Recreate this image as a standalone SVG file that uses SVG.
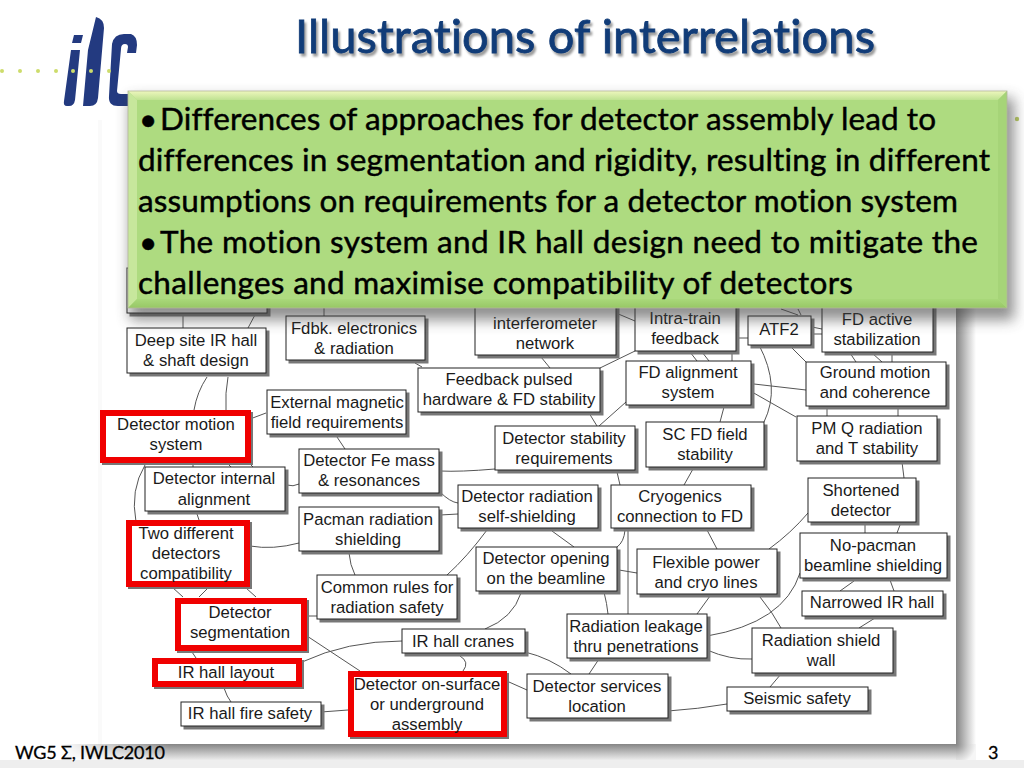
<svg xmlns="http://www.w3.org/2000/svg" width="1024" height="768" viewBox="0 0 1024 768">
<defs>
<linearGradient id="topb" x1="0" y1="0" x2="0" y2="1"><stop offset="0" stop-color="#eef7bd"/><stop offset="1" stop-color="#bfe292"/></linearGradient>
<linearGradient id="botb" x1="0" y1="0" x2="0" y2="1"><stop offset="0" stop-color="#a9d87a"/><stop offset="1" stop-color="#97c765"/></linearGradient>
<linearGradient id="bot" x1="0" y1="0" x2="0" y2="1"><stop offset="0" stop-color="#858585"/><stop offset=".6" stop-color="#c4c4c4"/><stop offset="1" stop-color="#ececec"/></linearGradient>
<linearGradient id="rgt" x1="0" y1="0" x2="1" y2="0"><stop offset="0" stop-color="#858585"/><stop offset=".6" stop-color="#d0d0d0"/><stop offset="1" stop-color="#ffffff"/></linearGradient>
<linearGradient id="fade" x1="0" y1="0" x2="1" y2="0"><stop offset="0" stop-color="#fff"/><stop offset="1" stop-color="#fff" stop-opacity="0"/></linearGradient>
<radialGradient id="cor" gradientUnits="userSpaceOnUse" cx="956" cy="744" r="20"><stop offset="0" stop-color="#858585"/><stop offset=".6" stop-color="#d0d0d0"/><stop offset="1" stop-color="#f6f6f6"/></radialGradient>
<filter id="sh" x="-5%" y="-15%" width="110%" height="130%"><feGaussianBlur stdDeviation="7"/></filter>
</defs>
<style>
text{font-family:"Liberation Sans",Arial,sans-serif;fill:#1a1a1a;font-size:16.7px;text-anchor:middle}
.b{fill:#fff;stroke:#222;stroke-width:1;filter:drop-shadow(3px 3px 0 #777)}
.r{fill:#fff;stroke:#f00000;stroke-width:6;filter:drop-shadow(2px 2px 0 #777)}
#conn path{fill:none;stroke:#555;stroke-width:1}
.t{font-family:"Lato","Open Sans",sans-serif;font-size:31.5px;fill:#000;stroke:#000;stroke-width:.45;text-anchor:start;font-variant-ligatures:none}
.title{font-family:Lato,sans-serif;font-size:47px;fill:#113c78;stroke:#113c78;stroke-width:.8;text-anchor:start;filter:drop-shadow(2px 3px 1px #9a9a9a);font-variant-ligatures:none}
.f{font-family:Lato,sans-serif;font-size:18px;fill:#000;stroke:#000;stroke-width:.3;text-anchor:start}
</style>
<rect width="1024" height="768" fill="#fff"/>
<g id="logo" fill="#233a80">
<path d="M74 35h9l-2 8h-9zM71 50h9l-5 50q-1 6-6 6h-2q-4 0-3-5zM96 17q8 2 8 11l-6 70q-1 8-8 8h-7l5-56z"/>
<path d="M112 44q2-10 12-10h7q6 2 6 11l-1 8h-9l1-6q0-3-3-3q-4 0-4 5l-4 42q0 3 4 3h8l1 12h-12q-10 0-9-10z"/>
</g>
<g id="dots" fill="#cddc6b"><circle cx="2" cy="71" r="2"/><circle cx="20" cy="71" r="2"/><circle cx="38" cy="71" r="2"/><circle cx="56" cy="71" r="2"/><circle cx="73" cy="71" r="2"/><circle cx="91" cy="71" r="2"/><circle cx="109" cy="71" r="2"/><circle cx="1017" cy="119" r="2.2" fill="#b9cc62"/></g>
<rect x="98" y="120" width="4" height="624" fill="#fafafa"/>
<rect x="60" y="744" width="896" height="16" fill="url(#bot)"/>
<rect x="60" y="744" width="110" height="16" fill="url(#fade)"/>
<rect x="956" y="120" width="20" height="624" fill="url(#rgt)"/>
<rect x="956" y="744" width="20" height="16" fill="url(#cor)"/>
<rect x="0" y="760" width="1024" height="8" fill="#eee"/>
<rect id="page" x="102" y="120" width="854" height="624" fill="#fff"/>
<g id="conn">
<path d="M183 313v15M256 313l-8 15M324 306v10M415 363l7 4M207 377Q197 392 194 410M228 377Q225 393 226 410M250 419l16-6M145 465Q130 490 136 522M193 463v4M228 464l3 3M250 464l3 3M337 437l8 12M287 485Q293 487 299 484M440 471Q460 472 495 469M440 492Q450 502 458 503M197 514l3 9M250 546Q273 550 299 543M440 515l18-1M487 530Q467 557 447 575M349 553Q350 565 355 575M172 587l11 10M208 588l-9 9M246 588l10 9M307 616h10M307 636l53 35M521 593Q513 618 485 629M302 662Q347 641 402 641M460 656Q470 662 463 671M525 652Q550 658 571 674M552 531l22 16M625 530Q624 542 617 547M628 530v84M707 530l10 19M619 570l18 3M604 592Q607 604 608 614M710 596l-13 18M760 597Q773 613 781 628M769 549Q791 533 808 513M865 525v8M900 525l-3 8M854 581l-14 10M890 580l4 11M800 573Q784 623 707 636M707 650Q730 660 752 659M875 618l-16 10M781 674l-11 13M599 659l-10 15M509 682l18 8M668 711Q698 709 727 704M321 712l27-2M192 652l4 6M224 688Q227 697 231 702M541 357l9 11M635 351l-35 17M616 313l19 8M589 413l8 13M626 402l-27 24M690 352l7 9M702 352l7 9M732 352v9M737 338h11M759 345Q781 387 764 422M791 347l15 15M812 327l10 2M812 334h10M781 309l17 6M798 309l3 6M850 353l6 9M872 353l10 9M892 353v9M754 384l52 6M752 392l44 25M724 407l-4 15M827 407v9M898 407v9M902 462l2 16M693 469l-9 16M617 472l3 13"/>
</g>
<g id="n-top"><rect class="b" x="127" y="268" width="140" height="45"/></g>
<g id="n-deep"><rect class="b" x="127" y="328" width="139" height="45"/><text x="196" y="346">Deep site IR hall</text><text x="196" y="366">&amp; shaft design</text></g>
<g id="n-fdbk"><rect class="b" x="286" y="316" width="139" height="44"/><text x="354" y="334">Fdbk. electronics</text><text x="354" y="354">&amp; radiation</text></g>
<g id="n-inter"><rect class="b" x="475" y="295" width="141" height="60"/><text x="545" y="329">interferometer</text><text x="545" y="349">network</text></g>
<g id="n-intra"><rect class="b" x="635" y="295" width="101" height="56"/><text x="685" y="324">Intra-train</text><text x="685" y="344">feedback</text></g>
<g id="n-atf"><rect class="b" x="748" y="316" width="63" height="29"/><text x="779" y="335">ATF2</text></g>
<g id="n-fda"><rect class="b" x="822" y="295" width="111" height="57"/><text x="877" y="325">FD active</text><text x="877" y="345">stabilization</text></g>
<g id="n-fb"><rect class="b" x="418" y="368" width="182" height="44"/><text x="509" y="385">Feedback pulsed</text><text x="509" y="405">hardware &amp; FD stability</text></g>
<g id="n-fdal"><rect class="b" x="626" y="361" width="125" height="44"/><text x="688" y="378">FD alignment</text><text x="688" y="398">system</text></g>
<g id="n-gm"><rect class="b" x="806" y="362" width="140" height="44"/><text x="875" y="378">Ground motion</text><text x="875" y="398">and coherence</text></g>
<g id="n-ext"><rect class="b" x="267" y="390" width="139" height="44"/><text x="337" y="408">External magnetic</text><text x="337" y="428">field requirements</text></g>
<g id="n-motion"><rect class="r" x="103" y="413" width="145" height="47"/><text x="176" y="430">Detector motion</text><text x="176" y="450">system</text></g>
<g id="n-stab"><rect class="b" x="495" y="426" width="140" height="44"/><text x="564" y="444">Detector stability</text><text x="564" y="464">requirements</text></g>
<g id="n-sc"><rect class="b" x="646" y="422" width="118" height="45"/><text x="705" y="440">SC FD field</text><text x="705" y="460">stability</text></g>
<g id="n-pm"><rect class="b" x="797" y="416" width="140" height="45"/><text x="867" y="434">PM Q radiation</text><text x="867" y="454">and T stability</text></g>
<g id="n-fe"><rect class="b" x="299" y="449" width="140" height="44"/><text x="369" y="466">Detector Fe mass</text><text x="369" y="486">&amp; resonances</text></g>
<g id="n-int"><rect class="b" x="145" y="467" width="140" height="44"/><text x="214" y="484">Detector internal</text><text x="214" y="505">alignment</text></g>
<g id="n-rad"><rect class="b" x="458" y="485" width="140" height="43"/><text x="527" y="502">Detector radiation</text><text x="527" y="522">self-shielding</text></g>
<g id="n-cryo"><rect class="b" x="611" y="485" width="140" height="43"/><text x="680" y="502">Cryogenics</text><text x="680" y="522">connection to FD</text></g>
<g id="n-short"><rect class="b" x="808" y="478" width="108" height="44"/><text x="861" y="496">Shortened</text><text x="861" y="516">detector</text></g>
<g id="n-pac"><rect class="b" x="299" y="507" width="140" height="44"/><text x="368" y="525">Pacman radiation</text><text x="368" y="545">shielding</text></g>
<g id="n-two"><rect class="r" x="129" y="523" width="118" height="61"/><text x="186" y="539">Two different</text><text x="186" y="559">detectors</text><text x="186" y="579">compatibility</text></g>
<g id="n-open"><rect class="b" x="476" y="547" width="141" height="44"/><text x="546" y="564">Detector opening</text><text x="546" y="584">on the beamline</text></g>
<g id="n-flex"><rect class="b" x="637" y="549" width="140" height="45"/><text x="706" y="568">Flexible power</text><text x="706" y="588">and cryo lines</text></g>
<g id="n-nop"><rect class="b" x="800" y="533" width="147" height="45"/><text x="873" y="551">No-pacman</text><text x="873" y="571">beamline shielding</text></g>
<g id="n-common"><rect class="b" x="317" y="575" width="140" height="44"/><text x="387" y="593">Common rules for</text><text x="387" y="613">radiation safety</text></g>
<g id="n-narrow"><rect class="b" x="802" y="591" width="141" height="25"/><text x="872" y="608">Narrowed IR hall</text></g>
<g id="n-seg"><rect class="r" x="178" y="601" width="126" height="47"/><text x="240" y="618">Detector</text><text x="240" y="638">segmentation</text></g>
<g id="n-leak"><rect class="b" x="567" y="614" width="140" height="44"/><text x="636" y="632">Radiation leakage</text><text x="636" y="652">thru penetrations</text></g>
<g id="n-wall"><rect class="b" x="752" y="628" width="141" height="45"/><text x="821" y="646">Radiation shield</text><text x="821" y="666">wall</text></g>
<g id="n-cranes"><rect class="b" x="402" y="629" width="123" height="24"/><text x="463" y="647">IR hall cranes</text></g>
<g id="n-layout"><rect class="r" x="155" y="661" width="144" height="23"/><text x="226" y="678">IR hall layout</text></g>
<g id="n-surf"><rect class="r" x="351" y="674" width="153" height="60"/><text x="427" y="690">Detector on-surface</text><text x="427" y="710">or underground</text><text x="427" y="730">assembly</text></g>
<g id="n-svc"><rect class="b" x="527" y="674" width="141" height="44"/><text x="597" y="692">Detector services</text><text x="597" y="712">location</text></g>
<g id="n-seis"><rect class="b" x="727" y="687" width="141" height="24"/><text x="797" y="704">Seismic safety</text></g>
<g id="n-fire"><rect class="b" x="181" y="702" width="140" height="24"/><text x="250" y="719">IR hall fire safety</text></g>
<g id="callout">
<rect x="130" y="98" width="884" height="222" fill="#444" opacity=".6" filter="url(#sh)"/>
<rect x="128" y="91" width="879" height="217" fill="#aedb80"/>
<path d="M128 91h879l-9 9H137z" fill="url(#topb)"/>
<path d="M128 91l9 9v199l-9 9z" fill="#c7e79c"/>
<path d="M128 308h879l-9-9H137z" fill="url(#botb)"/>
<path d="M1007 91l-9 9v199l9 9z" fill="#a6d478"/>
<rect x="128" y="91" width="879" height="217" fill="none" stroke="#b5b89c" stroke-width=".8"/>
<text class="t"><tspan x="139" y="130">•</tspan><tspan x="160" y="130" textLength="776" lengthAdjust="spacing">Differences of approaches for detector assembly lead to</tspan></text>
<text class="t" x="138" y="171" textLength="852" lengthAdjust="spacing">differences in segmentation and rigidity, resulting in different</text>
<text class="t" x="138" y="212" textLength="820" lengthAdjust="spacing">assumptions on requirements for a detector motion system</text>
<text class="t"><tspan x="139" y="253">•</tspan><tspan x="160" y="253" textLength="818" lengthAdjust="spacing">The motion system and IR hall design need to mitigate the</tspan></text>
<text class="t" x="138" y="294" textLength="715" lengthAdjust="spacing">challenges and maximise compatibility of detectors</text>
</g>
<text class="title" x="295" y="53" textLength="580" lengthAdjust="spacing">Illustrations of interrelations</text>
<text class="f" x="15" y="759" textLength="150" lengthAdjust="spacing">WG5 Σ, IWLC2010</text>
<text class="f" x="988" y="759">3</text>
</svg>
